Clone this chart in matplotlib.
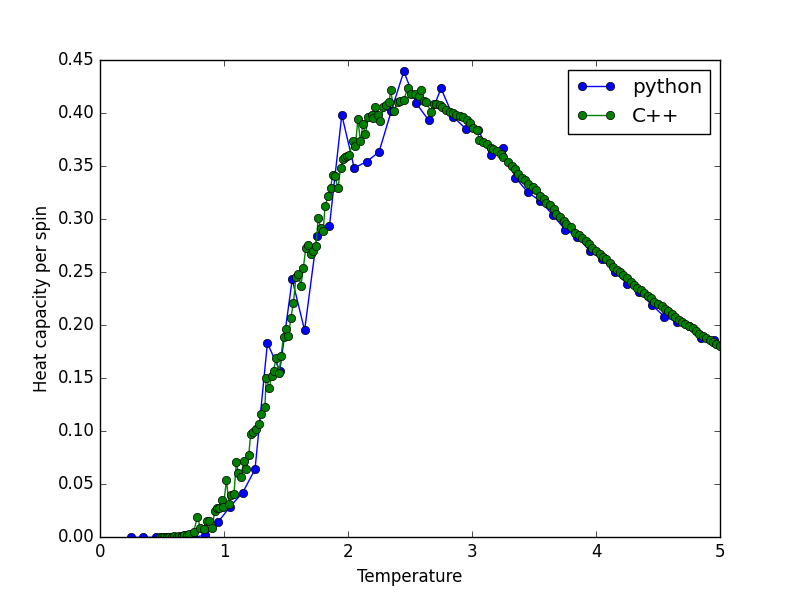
import matplotlib
matplotlib.use('Agg')
import matplotlib.pyplot as plt

plt.style.use('classic')

# python run: temperature step 0.1
t_py = [0.25, 0.35, 0.45, 0.55, 0.65, 0.75, 0.85, 0.95, 1.05, 1.15,
        1.25, 1.35, 1.45, 1.55, 1.65, 1.75, 1.85, 1.95, 2.05, 2.15,
        2.25, 2.35, 2.45, 2.55, 2.65, 2.75, 2.85, 2.95, 3.05, 3.15,
        3.25, 3.35, 3.45, 3.55, 3.65, 3.75, 3.85, 3.95, 4.05, 4.15,
        4.25, 4.35, 4.45, 4.55, 4.65, 4.75, 4.85, 4.95]
c_py = [0.000, 0.000, 0.000, 0.000, 0.000, 0.000, 0.002, 0.014, 0.029, 0.042,
        0.064, 0.183, 0.157, 0.243, 0.195, 0.284, 0.293, 0.398, 0.348, 0.354,
        0.363, 0.402, 0.439, 0.409, 0.393, 0.423, 0.396, 0.385, 0.384, 0.360,
        0.367, 0.339, 0.325, 0.317, 0.304, 0.290, 0.283, 0.270, 0.262, 0.250,
        0.239, 0.231, 0.219, 0.208, 0.203, 0.199, 0.188, 0.186]

# C++ run
t_cpp = [0.48, 0.50, 0.52, 0.54, 0.56, 0.58, 0.60, 0.62, 0.64, 0.66,
         0.68, 0.70, 0.72, 0.755, 0.785, 0.81, 0.835, 0.865, 0.88, 0.905,
         0.925, 0.945, 0.96, 0.98, 0.995, 1.02, 1.04, 1.06, 1.08, 1.10,
         1.115, 1.135, 1.16, 1.18, 1.20, 1.215, 1.235, 1.26, 1.28, 1.30,
         1.33, 1.34, 1.365, 1.385, 1.40, 1.42, 1.445, 1.46, 1.48, 1.50,
         1.52, 1.54, 1.56, 1.58, 1.60, 1.62, 1.64, 1.66, 1.68, 1.70,
         1.72, 1.74, 1.76, 1.78, 1.80, 1.815, 1.84, 1.86, 1.875, 1.895,
         1.92, 1.94, 1.96, 1.975, 1.99, 2.01, 2.04, 2.06, 2.08, 2.10,
         2.12, 2.14, 2.165, 2.19, 2.20, 2.22, 2.245, 2.26, 2.285, 2.31,
         2.33, 2.345, 2.37, 2.40, 2.42, 2.45, 2.48, 2.51, 2.54, 2.57,
         2.59, 2.61, 2.63, 2.67, 2.69, 2.71, 2.74, 2.76, 2.79, 2.82,
         2.85, 2.87, 2.90, 2.93, 2.96, 2.98, 3.01, 3.04, 3.06, 3.09,
         3.12, 3.15, 3.17, 3.20, 3.23, 3.25, 3.29, 3.32, 3.35, 3.37,
         3.40, 3.43, 3.45, 3.49, 3.52, 3.55, 3.58, 3.60, 3.63, 3.66,
         3.68, 3.71, 3.74, 3.76, 3.80, 3.83, 3.86, 3.89, 3.92, 3.94,
         3.97, 4.00, 4.03, 4.06, 4.08, 4.11, 4.14, 4.17, 4.19, 4.22,
         4.25, 4.28, 4.31, 4.33, 4.36, 4.39, 4.42, 4.44, 4.47, 4.50,
         4.53, 4.56, 4.58, 4.61, 4.64, 4.67, 4.69, 4.72, 4.75, 4.78,
         4.81, 4.83, 4.86, 4.89, 4.92, 4.94, 4.97, 5.00]
c_cpp = [0.000, 0.000, 0.000, 0.000, 0.000, 0.000, 0.001, 0.000, 0.001, 0.001,
         0.002, 0.002, 0.003, 0.005, 0.019, 0.009, 0.008, 0.015, 0.015, 0.009,
         0.025, 0.028, 0.028, 0.035, 0.029, 0.054, 0.031, 0.040, 0.041, 0.071,
         0.061, 0.057, 0.072, 0.064, 0.078, 0.097, 0.099, 0.102, 0.107, 0.116,
         0.123, 0.150, 0.141, 0.152, 0.157, 0.169, 0.155, 0.171, 0.189, 0.196,
         0.190, 0.207, 0.221, 0.245, 0.248, 0.237, 0.254, 0.273, 0.275, 0.267,
         0.270, 0.274, 0.301, 0.291, 0.289, 0.312, 0.322, 0.329, 0.341, 0.340,
         0.329, 0.348, 0.356, 0.358, 0.359, 0.360, 0.373, 0.369, 0.394, 0.373,
         0.389, 0.380, 0.396, 0.398, 0.395, 0.405, 0.398, 0.392, 0.405, 0.407,
         0.410, 0.421, 0.402, 0.410, 0.411, 0.412, 0.423, 0.418, 0.418, 0.416,
         0.421, 0.411, 0.410, 0.401, 0.408, 0.408, 0.407, 0.405, 0.403, 0.401,
         0.400, 0.398, 0.397, 0.396, 0.393, 0.390, 0.386, 0.384, 0.374, 0.372,
         0.371, 0.367, 0.366, 0.364, 0.361, 0.358, 0.354, 0.350, 0.347, 0.342,
         0.339, 0.337, 0.333, 0.330, 0.327, 0.322, 0.319, 0.315, 0.313, 0.309,
         0.305, 0.302, 0.298, 0.295, 0.292, 0.287, 0.285, 0.282, 0.279, 0.276,
         0.273, 0.270, 0.267, 0.264, 0.262, 0.258, 0.255, 0.252, 0.250, 0.247,
         0.244, 0.241, 0.238, 0.235, 0.233, 0.230, 0.227, 0.225, 0.222, 0.220,
         0.218, 0.215, 0.213, 0.210, 0.208, 0.205, 0.203, 0.201, 0.199, 0.197,
         0.194, 0.192, 0.190, 0.188, 0.186, 0.184, 0.182, 0.180]

fig = plt.figure(figsize=(8, 5.97), dpi=100)
ax = fig.add_subplot(111)
ax.plot(t_py, c_py, 'b-o', label='python')
ax.plot(t_cpp, c_cpp, 'g-o', label='C++')
ax.set_xlim(0, 5)
ax.set_ylim(0, 0.45)
ax.set_xlabel('Temperature')
ax.set_ylabel('Heat capacity per spin')
ax.legend(loc='upper right', numpoints=2)
fig.savefig('out.png', dpi=100)
